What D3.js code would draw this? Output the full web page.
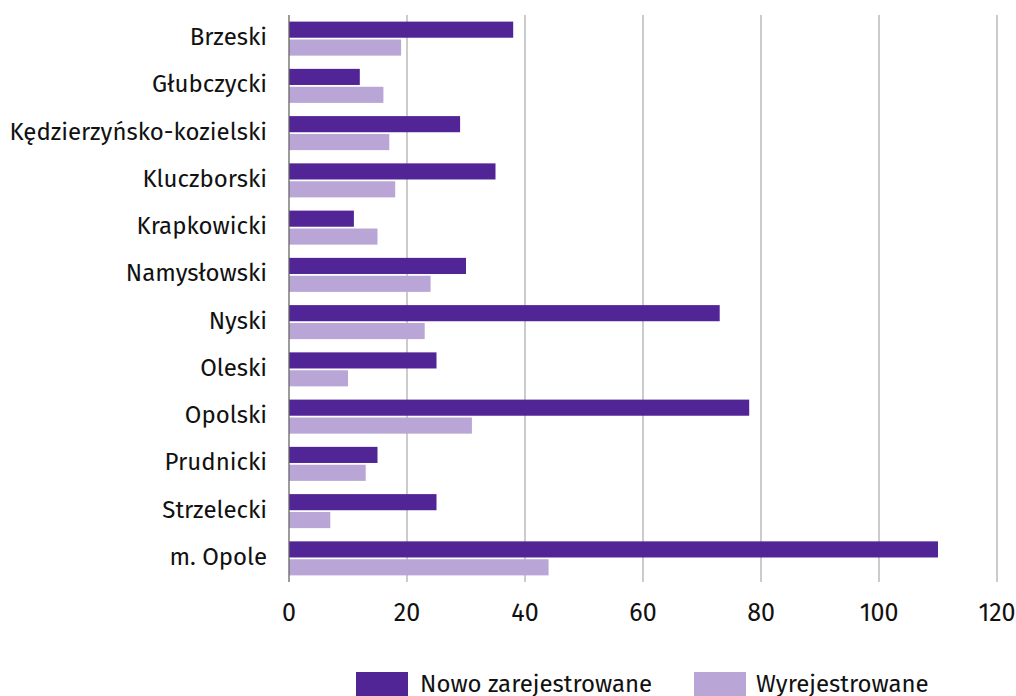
<!DOCTYPE html>
<html><head><meta charset="utf-8">
<script src="https://cdn.jsdelivr.net/npm/d3@7"></script>
<style>body{margin:0;background:#fff}svg{display:block;font-family:"Fira Sans","Noto Sans",sans-serif}</style>
</head><body><svg id="c" width="1016" height="696"></svg>
<script>
const categories = ["Brzeski","Głubczycki","Kędzierzyńsko-kozielski","Kluczborski","Krapkowicki","Namysłowski","Nyski","Oleski","Opolski","Prudnicki","Strzelecki","m. Opole"];
const seriesNames = ["Nowo zarejestrowane","Wyrejestrowane"];
const nowo = [38,12,29,35,11,30,73,25,78,15,25,110];
const wyrej = [19,16,17,18,15,24,23,10,31,13,7,44];
const ticks = [0,20,40,60,80,100,120];
const colors = ["#512596","#b9a6d6"];

const svg = d3.select("#c");
const x = d3.scaleLinear().domain([0,120]).range([289,997]);
const y = d3.scaleBand().domain(categories).range([15,582]).paddingInner(0.28).paddingOuter(0.14);
const sub = d3.scaleBand().domain([0,1]).range([0,y.bandwidth()]).paddingInner(0.1);

svg.append("g").selectAll("line").data(ticks.slice(1)).join("line")
  .attr("x1",d=>x(d)).attr("x2",d=>x(d)).attr("y1",15).attr("y2",582)
  .attr("stroke","#b0b0b0").attr("stroke-width",1.3);

const data = [nowo,wyrej];
data.forEach((arr,si)=>{
  svg.append("g").selectAll("rect").data(arr).join("rect")
    .attr("x",x(0)).attr("y",(d,i)=>y(categories[i])+sub(si))
    .attr("width",d=>x(d)-x(0)).attr("height",sub.bandwidth())
    .attr("fill",colors[si]);
});

svg.append("line").attr("x1",x(0)).attr("x2",x(0)).attr("y1",15).attr("y2",582)
  .attr("stroke","#666").attr("stroke-width",1.3);

svg.append("g").selectAll("text").data(categories).join("text")
  .attr("x",267).attr("y",d=>y(d)+y.bandwidth()/2 - 2).attr("dy","0.35em")
  .attr("text-anchor","end").attr("font-size",24).attr("fill","#111").text(d=>d);

svg.append("g").selectAll("text").data(ticks).join("text")
  .attr("x",d=>x(d)).attr("y",612).attr("dy","0.35em")
  .attr("text-anchor","middle").attr("font-size",25).attr("fill","#111").text(d=>d);

const leg = [{x:356,tx:420},{x:694,tx:756}];
seriesNames.forEach((n,i)=>{
  svg.append("rect").attr("x",leg[i].x).attr("y",672).attr("width",52).attr("height",24).attr("fill",colors[i]);
  svg.append("text").attr("x",leg[i].tx).attr("y",684).attr("dy","0.35em").attr("font-size",24).attr("fill","#111").text(n);
});
</script></body></html>
